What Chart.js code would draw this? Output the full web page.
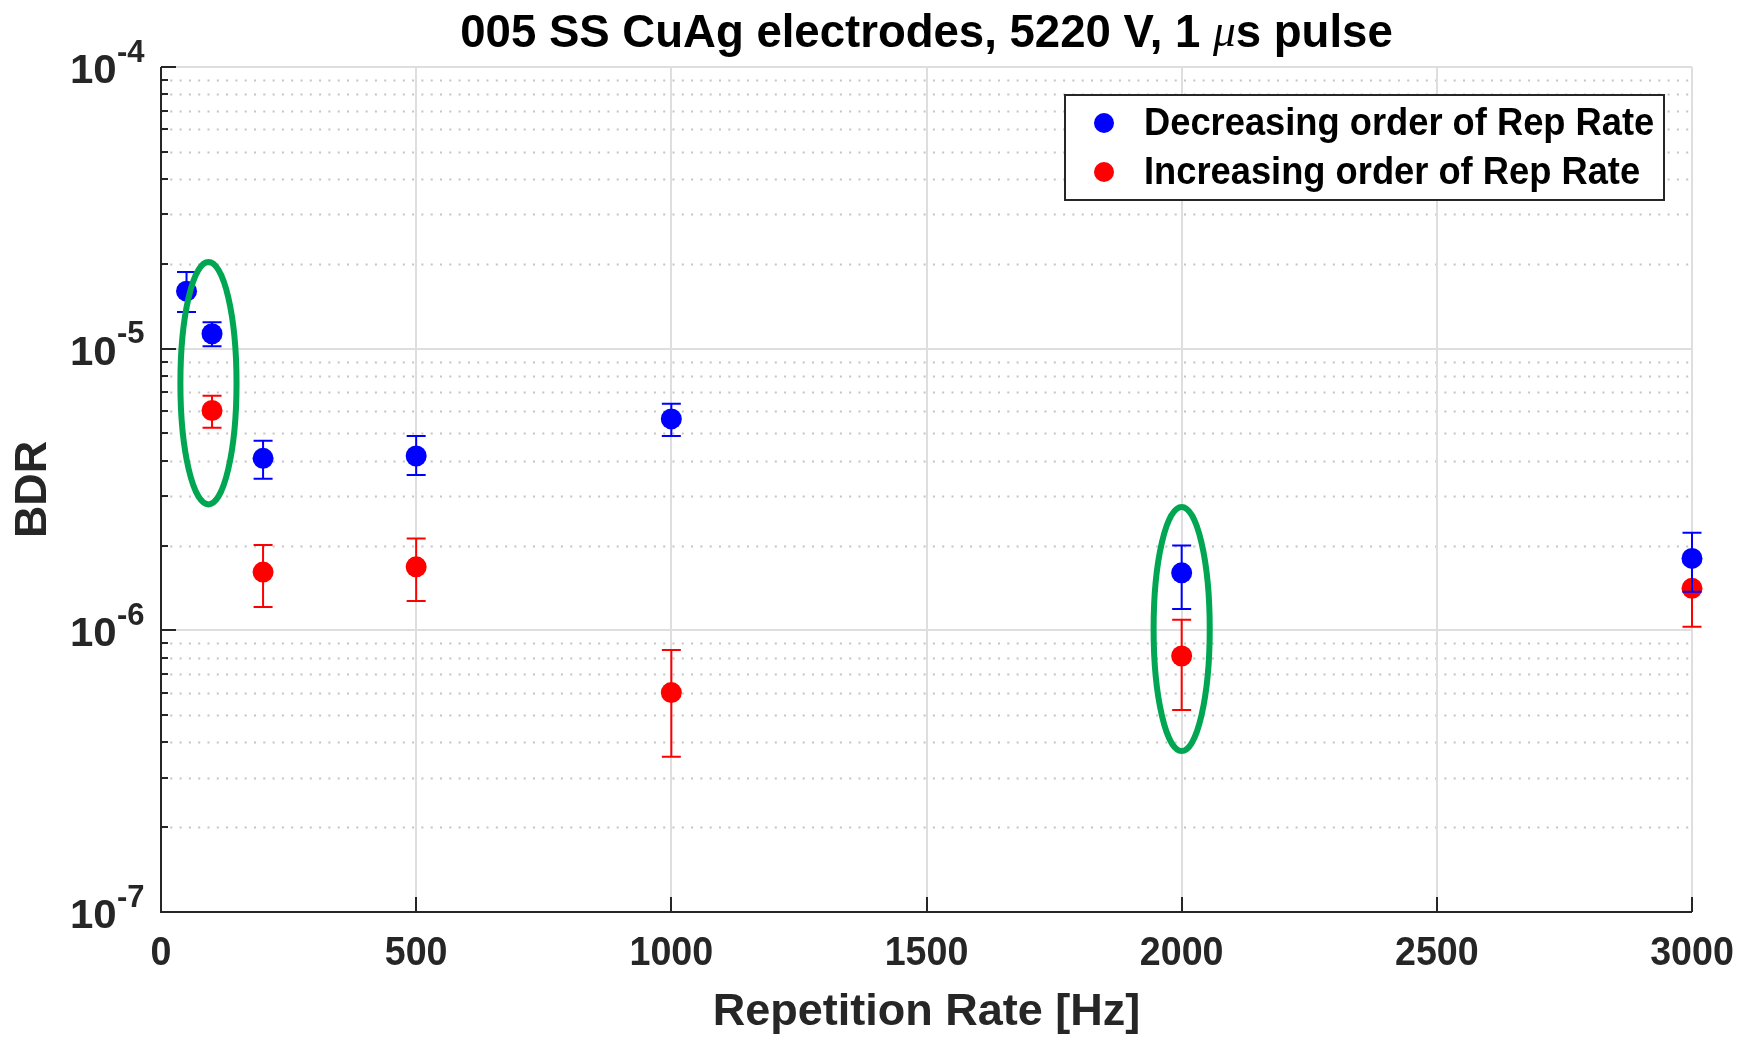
<!DOCTYPE html>
<html>
<head>
<meta charset="utf-8">
<title>BDR vs repetition rate</title>
<script src="https://cdn.jsdelivr.net/npm/chart.js@4.4.1/dist/chart.umd.min.js"></script>
<style>
  html, body { margin: 0; padding: 0; background: #fff; }
  #wrap { width: 1740px; height: 1040px; }
</style>
</head>
<body>
<div id="wrap"><canvas id="bdr-chart" width="1740" height="1040"></canvas></div>
<script>
// repetition rates [Hz] and BDR with error bar limits
const decRate = [50, 100, 200, 500, 1000, 2000, 3000];
const decBdr  = [1.60e-5, 1.13e-5, 4.08e-6, 4.16e-6, 5.63e-6, 1.60e-6, 1.80e-6];
const decHigh = [1.87e-5, 1.24e-5, 4.71e-6, 4.90e-6, 6.37e-6, 2.00e-6, 2.22e-6];
const decLow  = [1.35e-5, 1.02e-5, 3.45e-6, 3.56e-6, 4.90e-6, 1.19e-6, 1.37e-6];

const incRate = [100, 200, 500, 1000, 2000, 3000];
const incBdr  = [6.03e-6, 1.61e-6, 1.68e-6, 6.01e-7, 8.11e-7, 1.41e-6];
const incHigh = [6.81e-6, 2.01e-6, 2.12e-6, 8.51e-7, 1.09e-6, 1.78e-6];
const incLow  = [5.24e-6, 1.21e-6, 1.27e-6, 3.56e-7, 5.21e-7, 1.03e-6];

const xTicks = [0, 500, 1000, 1500, 2000, 2500, 3000];
const yExponents = [-7, -6, -5, -4];

const seriesNames = ['Decreasing order of Rep Rate', 'Increasing order of Rep Rate'];
const seriesColors = ['#0000ff', '#ff0000'];
const errLow = [decLow, incLow];
const errHigh = [decHigh, incHigh];

// highlighted groups (green rings), in data units
const rings = [
    { x0: 38, x1: 148, top: 2.03e-5, bottom: 2.80e-6 },
    { x0: 1945, x1: 2055, top: 2.74e-6, bottom: 3.73e-7 }
];

const FONT = '"Liberation Sans", Arial, Helvetica, sans-serif';
const AXIS_COLOR = '#262626';

function text(ctx, str, x, y, size, align, sx) {
    ctx.save();
    ctx.font = `bold ${size}px ${FONT}`;
    ctx.translate(x, y);
    ctx.scale(sx, 1);
    ctx.textAlign = align;
    ctx.textBaseline = 'middle';
    ctx.fillText(str, 0, 0);
    ctx.restore();
}

const matlabLook = {
    id: 'matlabLook',
    beforeDatasetsDraw(chart) {
        const { ctx, chartArea: a, scales: { x, y } } = chart;
        ctx.save();
        ctx.fillStyle = '#fff';
        ctx.fillRect(a.left, a.top, a.right - a.left, a.bottom - a.top);

        // minor grid (dotted) for the log axis
        ctx.strokeStyle = '#c4c4c4';
        ctx.lineWidth = 2;
        ctx.setLineDash([2, 7.3]);
        for (let e = -7; e < -4; e++) {
            for (let m = 2; m <= 9; m++) {
                const py = Math.round(y.getPixelForValue(m * Math.pow(10, e))) + 0.5;
                ctx.beginPath();
                ctx.moveTo(a.left, py);
                ctx.lineTo(a.right, py);
                ctx.stroke();
            }
        }
        ctx.setLineDash([]);

        // major grid
        ctx.strokeStyle = '#dedede';
        ctx.lineWidth = 2;
        yExponents.forEach(e => {
            const py = Math.round(y.getPixelForValue(Math.pow(10, e)));
            ctx.beginPath();
            ctx.moveTo(a.left, py);
            ctx.lineTo(a.right, py);
            ctx.stroke();
        });
        xTicks.forEach(v => {
            const px = Math.round(x.getPixelForValue(v));
            ctx.beginPath();
            ctx.moveTo(px, a.top);
            ctx.lineTo(px, a.bottom);
            ctx.stroke();
        });

        // axes with inward ticks
        ctx.strokeStyle = AXIS_COLOR;
        ctx.lineWidth = 2;
        ctx.beginPath();
        ctx.moveTo(a.left, a.top);
        ctx.lineTo(a.left, a.bottom);
        ctx.lineTo(a.right, a.bottom);
        for (let e = -7; e < -4; e++) {
            for (let m = 1; m <= 9; m++) {
                const py = Math.round(y.getPixelForValue(m * Math.pow(10, e)));
                ctx.moveTo(a.left, py);
                ctx.lineTo(a.left + (m === 1 ? 15 : 7), py);
            }
        }
        const pTop = Math.round(y.getPixelForValue(1e-4));
        ctx.moveTo(a.left, pTop);
        ctx.lineTo(a.left + 15, pTop);
        xTicks.forEach(v => {
            const px = Math.round(x.getPixelForValue(v));
            ctx.moveTo(px, a.bottom);
            ctx.lineTo(px, a.bottom - 15);
        });
        ctx.stroke();
        ctx.restore();
    },
    beforeDatasetDraw(chart, args) {
        // error bars go under the markers of their own series
        const { ctx, scales: { x, y } } = chart;
        const ds = chart.data.datasets[args.index];
        const lo = errLow[args.index], hi = errHigh[args.index];
        ctx.save();
        ctx.strokeStyle = seriesColors[args.index];
        ctx.lineWidth = 2;
        ds.data.forEach((p, i) => {
            const px = x.getPixelForValue(p.x);
            const yl = y.getPixelForValue(lo[i]);
            const yh = y.getPixelForValue(hi[i]);
            ctx.beginPath();
            ctx.moveTo(px, yh);
            ctx.lineTo(px, yl);
            ctx.moveTo(px - 9.5, yh);
            ctx.lineTo(px + 9.5, yh);
            ctx.moveTo(px - 9.5, yl);
            ctx.lineTo(px + 9.5, yl);
            ctx.stroke();
        });
        ctx.restore();
    },
    afterDatasetsDraw(chart) {
        const { ctx, chartArea: a, scales: { x, y } } = chart;
        ctx.save();

        // green rings
        ctx.strokeStyle = '#00a651';
        ctx.lineWidth = 6;
        rings.forEach(r => {
            const x0 = x.getPixelForValue(r.x0), x1 = x.getPixelForValue(r.x1);
            const y0 = y.getPixelForValue(r.top), y1 = y.getPixelForValue(r.bottom);
            ctx.beginPath();
            ctx.ellipse((x0 + x1) / 2, (y0 + y1) / 2, (x1 - x0) / 2, (y1 - y0) / 2, 0, 0, Math.PI * 2);
            ctx.stroke();
        });

        // legend
        const lx = a.right - 627, ly = a.top + 28, lw = 599, lh = 105;
        ctx.fillStyle = '#fff';
        ctx.fillRect(lx, ly, lw, lh);
        ctx.strokeStyle = '#262626';
        ctx.lineWidth = 2;
        ctx.strokeRect(lx, ly, lw, lh);
        seriesNames.forEach((name, i) => {
            const cy = ly + 28 + i * 49;
            ctx.fillStyle = seriesColors[i];
            ctx.beginPath();
            ctx.arc(lx + 39, cy, 10, 0, Math.PI * 2);
            ctx.fill();
            ctx.fillStyle = '#000';
            text(ctx, name, lx + 79, cy + 2, 38, 'left', 0.955);
        });

        // tick labels
        ctx.fillStyle = AXIS_COLOR;
        xTicks.forEach(v => {
            text(ctx, String(v), x.getPixelForValue(v), a.bottom + 42, 40, 'center', 0.94);
        });
        yExponents.forEach(e => {
            const py = y.getPixelForValue(Math.pow(10, e));
            text(ctx, '10', a.left - 91, py + 5, 40, 'left', 1.05);
            text(ctx, String(e), a.left - 44, py - 14, 31, 'left', 1.0);
        });

        // axis titles
        ctx.fillStyle = '#262626';
        text(ctx, 'Repetition Rate [Hz]', (a.left + a.right) / 2, a.bottom + 101, 45, 'center', 1.0);
        ctx.save();
        ctx.translate(34, (a.top + a.bottom) / 2);
        ctx.rotate(-Math.PI / 2);
        text(ctx, 'BDR', 0, 0, 44, 'center', 1.02);
        ctx.restore();

        // title with italic mu
        ctx.fillStyle = '#000';
        const t1 = '005 SS CuAg electrodes, 5220 V, 1 ', t2 = '\u03bc', t3 = 's pulse';
        const sx = 0.99, size = 46;
        ctx.font = `bold ${size}px ${FONT}`;
        const w1 = ctx.measureText(t1).width * sx, w3 = ctx.measureText(t3).width * sx;
        ctx.font = `italic ${size}px "Liberation Serif", serif`;
        const w2 = ctx.measureText(t2).width * sx;
        let tx = (a.left + a.right) / 2 - (w1 + w2 + w3) / 2;
        const ty = 34;
        text(ctx, t1, tx, ty, size, 'left', sx);
        tx += w1;
        ctx.save();
        ctx.font = `italic ${size}px "Liberation Serif", serif`;
        ctx.translate(tx, ty);
        ctx.scale(sx, 1);
        ctx.textBaseline = 'middle';
        ctx.fillText(t2, 0, 0);
        ctx.restore();
        tx += w2;
        text(ctx, t3, tx, ty, size, 'left', sx);

        ctx.restore();
    }
};

const toPoints = (xs, ys) => xs.map((v, i) => ({ x: v, y: ys[i] }));

new Chart(document.getElementById('bdr-chart').getContext('2d'), {
    type: 'scatter',
    data: {
        datasets: [
            {
                label: seriesNames[0],
                data: toPoints(decRate, decBdr),
                backgroundColor: seriesColors[0],
                borderWidth: 0,
                pointRadius: 10.5,
                pointHoverRadius: 10.5,
                clip: false
            },
            {
                label: seriesNames[1],
                data: toPoints(incRate, incBdr),
                backgroundColor: seriesColors[1],
                borderWidth: 0,
                pointRadius: 10.5,
                pointHoverRadius: 10.5,
                clip: false
            }
        ]
    },
    options: {
        responsive: false,
        animation: false,
        devicePixelRatio: 1,
        layout: { padding: { left: 161, top: 67, right: 48, bottom: 128 } },
        scales: {
            x: { type: 'linear', min: 0, max: 3000, display: false },
            y: { type: 'logarithmic', min: 1e-7, max: 1e-4, display: false }
        },
        plugins: {
            legend: { display: false },
            title: { display: false },
            tooltip: { enabled: false }
        }
    },
    plugins: [matlabLook]
});
</script>
</body>
</html>
